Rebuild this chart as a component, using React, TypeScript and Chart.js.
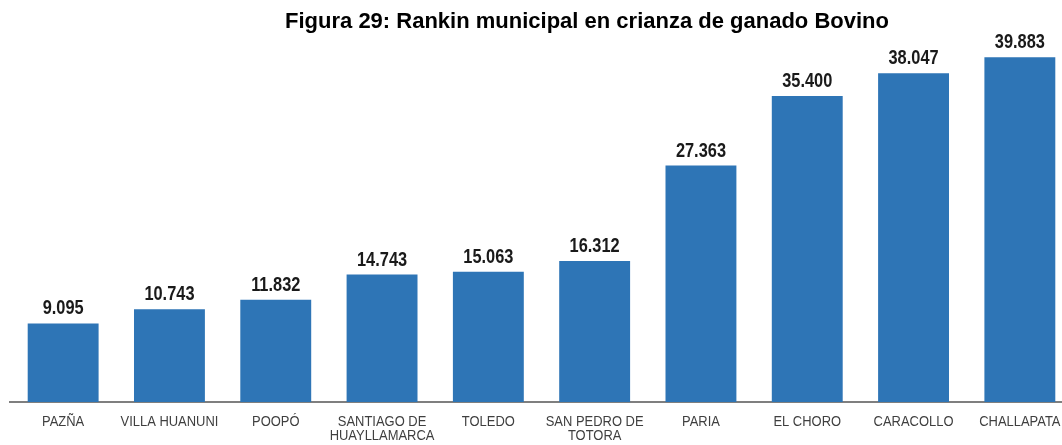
import React, { useEffect, useRef } from "react";
import { Chart, registerables } from "chart.js";

Chart.register(...registerables);

const TITLE = "Figura 29: Rankin municipal en crianza de ganado Bovino";
const categories: string[][] = [
  ["PAZÑA"],
  ["VILLA HUANUNI"],
  ["POOPÓ"],
  ["SANTIAGO DE", "HUAYLLAMARCA"],
  ["TOLEDO"],
  ["SAN PEDRO DE", "TOTORA"],
  ["PARIA"],
  ["EL CHORO"],
  ["CARACOLLO"],
  ["CHALLAPATA"],
];
const cattle = [9095, 10743, 11832, 14743, 15063, 16312, 27363, 35400, 38047, 39883];

const SANS = '"Liberation Sans", Arial, sans-serif';

function fmt(n: number): string {
  const s = Math.round(n).toString();
  return s.replace(/\B(?=(\d{3})+(?!\d))/g, ".");
}

function narrowText(ctx: CanvasRenderingContext2D, text: string, x: number, y: number, sx: number) {
  ctx.save();
  ctx.translate(x, y);
  ctx.scale(sx, 1);
  ctx.fillText(text, 0, 0);
  ctx.restore();
}

const textPlugin = {
  id: "textPlugin",
  afterDatasetsDraw(chart: any) {
    const ctx = chart.ctx as CanvasRenderingContext2D;
    const meta = chart.getDatasetMeta(0);
    const xScale = chart.scales.x;
    const bottom = chart.chartArea.bottom;
    ctx.save();
    ctx.textAlign = "center";
    ctx.textBaseline = "alphabetic";
    // value labels
    ctx.font = "bold 19.5px " + SANS;
    ctx.fillStyle = "#1a1a1a";
    meta.data.forEach((bar: any, i: number) => {
      narrowText(ctx, fmt(cattle[i]), bar.x, bar.y - 9, 0.84);
    });
    // category labels
    ctx.font = "14px " + SANS;
    ctx.fillStyle = "#3f3f3f";
    categories.forEach((lines, i) => {
      const x = xScale.getPixelForTick(i);
      lines.forEach((line, j) => {
        narrowText(ctx, line, x, bottom + 24 + j * 14, 0.925);
      });
    });
    ctx.restore();
  },
};

export default function App() {
  const ref = useRef<HTMLCanvasElement>(null);
  useEffect(() => {
    if (!ref.current) return;
    const chart = new Chart(ref.current, {
      type: "bar",
      data: {
        labels: categories.map((l) => l.join(" ")),
        datasets: [
          {
            data: cattle,
            backgroundColor: "#2E75B6",
            borderWidth: 0,
            barPercentage: 0.667,
            categoryPercentage: 1,
          },
        ],
      },
      options: {
        animation: false,
        responsive: false,
        devicePixelRatio: 1,
        layout: { padding: { top: 39, left: 10, right: 2, bottom: 0 } },
        plugins: {
          legend: { display: false },
          title: { display: false },
          tooltip: { enabled: false },
        },
        scales: {
          x: {
            grid: { display: false, drawTicks: false },
            border: { display: true, color: "#7f7f7f", width: 2 },
            ticks: { display: false, autoSkip: false },
            afterFit: (scale: any) => {
              scale.height = 43;
            },
          },
          y: {
            display: false,
            min: 0,
            max: 42000,
          },
        },
      },
      plugins: [textPlugin],
    });
    return () => chart.destroy();
  }, []);

  return (
    <div
      style={{
        position: "absolute",
        left: 0,
        top: 0,
        width: 1062,
        height: 445,
        overflow: "hidden",
        background: "#ffffff",
      }}
    >
      <canvas ref={ref} width={1075} height={445} style={{ display: "block" }} />
      <div
        style={{
          position: "absolute",
          left: 587,
          top: 8,
          transform: "translateX(-50%)",
          whiteSpace: "nowrap",
          fontFamily: SANS,
          fontWeight: "bold",
          fontSize: 22,
          lineHeight: "normal",
          color: "#000",
        }}
      >
        {TITLE}
      </div>
    </div>
  );
}
